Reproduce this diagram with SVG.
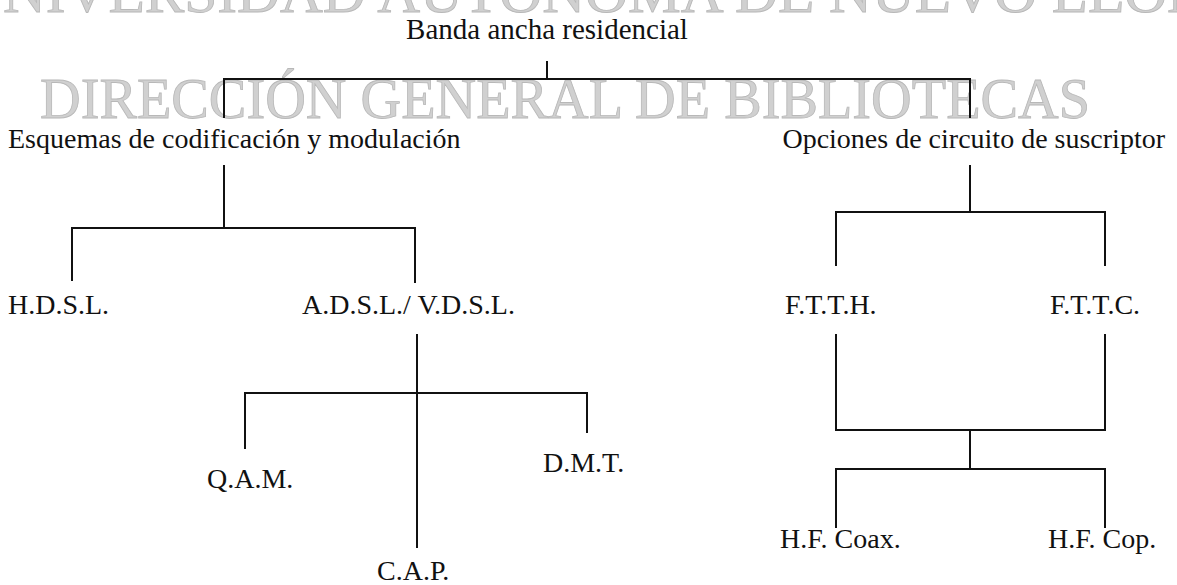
<svg xmlns="http://www.w3.org/2000/svg" width="1177" height="585" viewBox="0 0 1177 585">
<style>
.wm{font-family:"Liberation Serif","Times New Roman",serif;font-size:56px;fill:#d0d0d0;stroke:#b8b8b8;stroke-width:0.8}
.t{font-family:"Liberation Serif","Times New Roman",serif;font-size:28px;fill:#111}
.c line{stroke:#111;stroke-width:2;stroke-linecap:square}
</style>
<rect width="1177" height="585" fill="#fff"/>
<g id="watermark">
<text class="wm" x="-40" y="12" textLength="1250" lengthAdjust="spacingAndGlyphs">UNIVERSIDAD AUTÓNOMA DE NUEVO LEÓN</text>
<text class="wm" x="40" y="118" textLength="1050" lengthAdjust="spacingAndGlyphs">DIRECCIÓN GENERAL DE BIBLIOTECAS</text>
</g>
<g id="connectors" class="c">
<line x1="547" y1="62" x2="547" y2="79"/>
<line x1="224" y1="79" x2="970" y2="79"/>
<line x1="224" y1="79" x2="224" y2="117"/>
<line x1="970" y1="79" x2="970" y2="117"/>
<line x1="224" y1="166" x2="224" y2="228"/>
<line x1="72" y1="228" x2="415" y2="228"/>
<line x1="72" y1="228" x2="72" y2="280"/>
<line x1="415" y1="228" x2="415" y2="282"/>
<line x1="970" y1="166" x2="970" y2="212"/>
<line x1="836" y1="212" x2="1105" y2="212"/>
<line x1="836" y1="212" x2="836" y2="265"/>
<line x1="1105" y1="212" x2="1105" y2="265"/>
<line x1="417" y1="335" x2="417" y2="547"/>
<line x1="245" y1="393" x2="587" y2="393"/>
<line x1="245" y1="393" x2="245" y2="448"/>
<line x1="587" y1="393" x2="587" y2="432"/>
<line x1="836" y1="335" x2="836" y2="430"/>
<line x1="1105" y1="335" x2="1105" y2="430"/>
<line x1="836" y1="430" x2="1105" y2="430"/>
<line x1="970" y1="430" x2="970" y2="469"/>
<line x1="836" y1="469" x2="1105" y2="469"/>
<line x1="836" y1="469" x2="836" y2="527"/>
<line x1="1105" y1="469" x2="1105" y2="527"/>
</g>
<g id="n-banda"><text class="t" x="547" y="39" text-anchor="middle" style="font-size:29px">Banda ancha residencial</text></g>
<g id="n-esquemas"><text class="t" x="8" y="148">Esquemas de codificación y modulación</text></g>
<g id="n-opciones"><text class="t" x="1165" y="148" text-anchor="end">Opciones de circuito de suscriptor</text></g>
<g id="n-hdsl"><text class="t" x="8" y="314">H.D.S.L.</text></g>
<g id="n-adsl"><text class="t" x="302" y="314">A.D.S.L./ V.D.S.L.</text></g>
<g id="n-ftth"><text class="t" x="785" y="314">F.T.T.H.</text></g>
<g id="n-fttc"><text class="t" x="1050" y="314">F.T.T.C.</text></g>
<g id="n-qam"><text class="t" x="207" y="488">Q.A.M.</text></g>
<g id="n-dmt"><text class="t" x="543" y="472">D.M.T.</text></g>
<g id="n-cap"><text class="t" x="377" y="580">C.A.P.</text></g>
<g id="n-coax"><text class="t" x="780" y="548">H.F. Coax.</text></g>
<g id="n-cop"><text class="t" x="1048" y="548">H.F. Cop.</text></g>
</svg>
